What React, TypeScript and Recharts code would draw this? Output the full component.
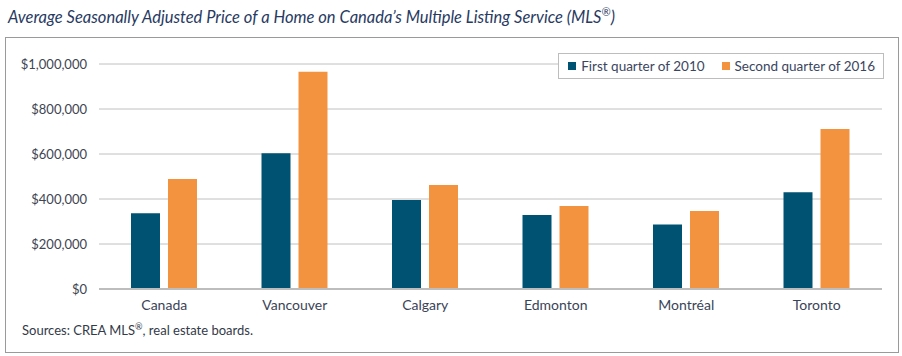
import React from 'react';
import { BarChart, Bar, XAxis, YAxis, CartesianGrid } from 'recharts';

// values (C$)
const cities = ['Canada', 'Vancouver', 'Calgary', 'Edmonton', 'Montréal', 'Toronto'];
const q1of2010 = [337000, 603000, 396000, 329000, 287000, 430000];
const q2of2016 = [489000, 966000, 462000, 369000, 347000, 711000];
const yTicks = [0, 200000, 400000, 600000, 800000, 1000000];

const BLUE = '#005272';
const ORANGE = '#f39340';
const FONT = 'Lato, "Open Sans", sans-serif';

const data = cities.map((name, i) => ({
  name,
  'First quarter of 2010': q1of2010[i],
  'Second quarter of 2016': q2of2016[i],
}));

const fmtMoney = (v: number) => '$' + v.toLocaleString('en-US');

const LegendBox = () => (
  <div
    style={{
      position: 'absolute',
      right: 902 - 884,
      top: 53,
      display: 'flex',
      alignItems: 'center',
      border: '1px solid #bdbdbd',
      background: '#fff',
      height: 24,
      padding: '0 8px 0 9px',
      fontSize: 13.5,
      color: '#3a4660',
      fontFamily: FONT,
      whiteSpace: 'nowrap',
    }}
  >
    <span style={{ width: 8, height: 8, background: BLUE, marginRight: 5 }} />
    <span style={{ marginRight: 17 }}>First quarter of 2010</span>
    <span style={{ width: 8, height: 8, background: ORANGE, marginRight: 5 }} />
    <span>Second quarter of 2016</span>
  </div>
);

export default function App() {
  return (
    <div style={{ position: 'absolute', left: 0, top: 0, width: 902, height: 356, background: '#fff', fontFamily: FONT }}>
      <div
        style={{
          position: 'absolute',
          left: 8,
          top: 5,
          fontSize: 16.5,
          fontStyle: 'italic',
          color: '#283a62',
          whiteSpace: 'nowrap',
        }}
      >
        Average Seasonally Adjusted Price of a Home on Canada’s Multiple Listing Service (MLS<sup style={{ fontSize: 11 }}>®</sup>)
      </div>

      {/* frame */}
      <div
        style={{
          position: 'absolute',
          left: 5,
          top: 37,
          width: 892,
          height: 314,
          border: '1px solid #9a9a9a',
        }}
      />

      <div style={{ position: 'absolute', left: 0, top: 0 }}>
        <BarChart
          width={902}
          height={356}
          data={data}
          margin={{ top: 64, right: 20, bottom: 37, left: 0 }}
          barSize={29}
          barGap={8}
        >
          <CartesianGrid vertical={false} stroke="#c0c0c0" />
          <XAxis
            dataKey="name"
            height={30}
            tickLine={false}
            axisLine={{ stroke: '#bdbdbd', strokeWidth: 2 }}
            tickMargin={5}
            tick={{ fontSize: 14, fill: '#3a4458', fontFamily: FONT }}
          />
          <YAxis
            width={99}
            domain={[0, 1000000]}
            ticks={yTicks}
            tickFormatter={fmtMoney}
            axisLine={false}
            tickLine={false}
            tickMargin={6}
            tick={{ fontSize: 13, fill: '#404552', fontFamily: FONT }}
          />
          <Bar dataKey="First quarter of 2010" fill={BLUE} isAnimationActive={false} />
          <Bar dataKey="Second quarter of 2016" fill={ORANGE} isAnimationActive={false} />
        </BarChart>
      </div>

      <LegendBox />

      <div
        style={{
          position: 'absolute',
          left: 22,
          top: 321,
          fontSize: 13,
          color: '#333a48',
          whiteSpace: 'nowrap',
        }}
      >
        Sources: CREA MLS<sup style={{ fontSize: 9 }}>®</sup>, real estate boards.
      </div>
    </div>
  );
}
